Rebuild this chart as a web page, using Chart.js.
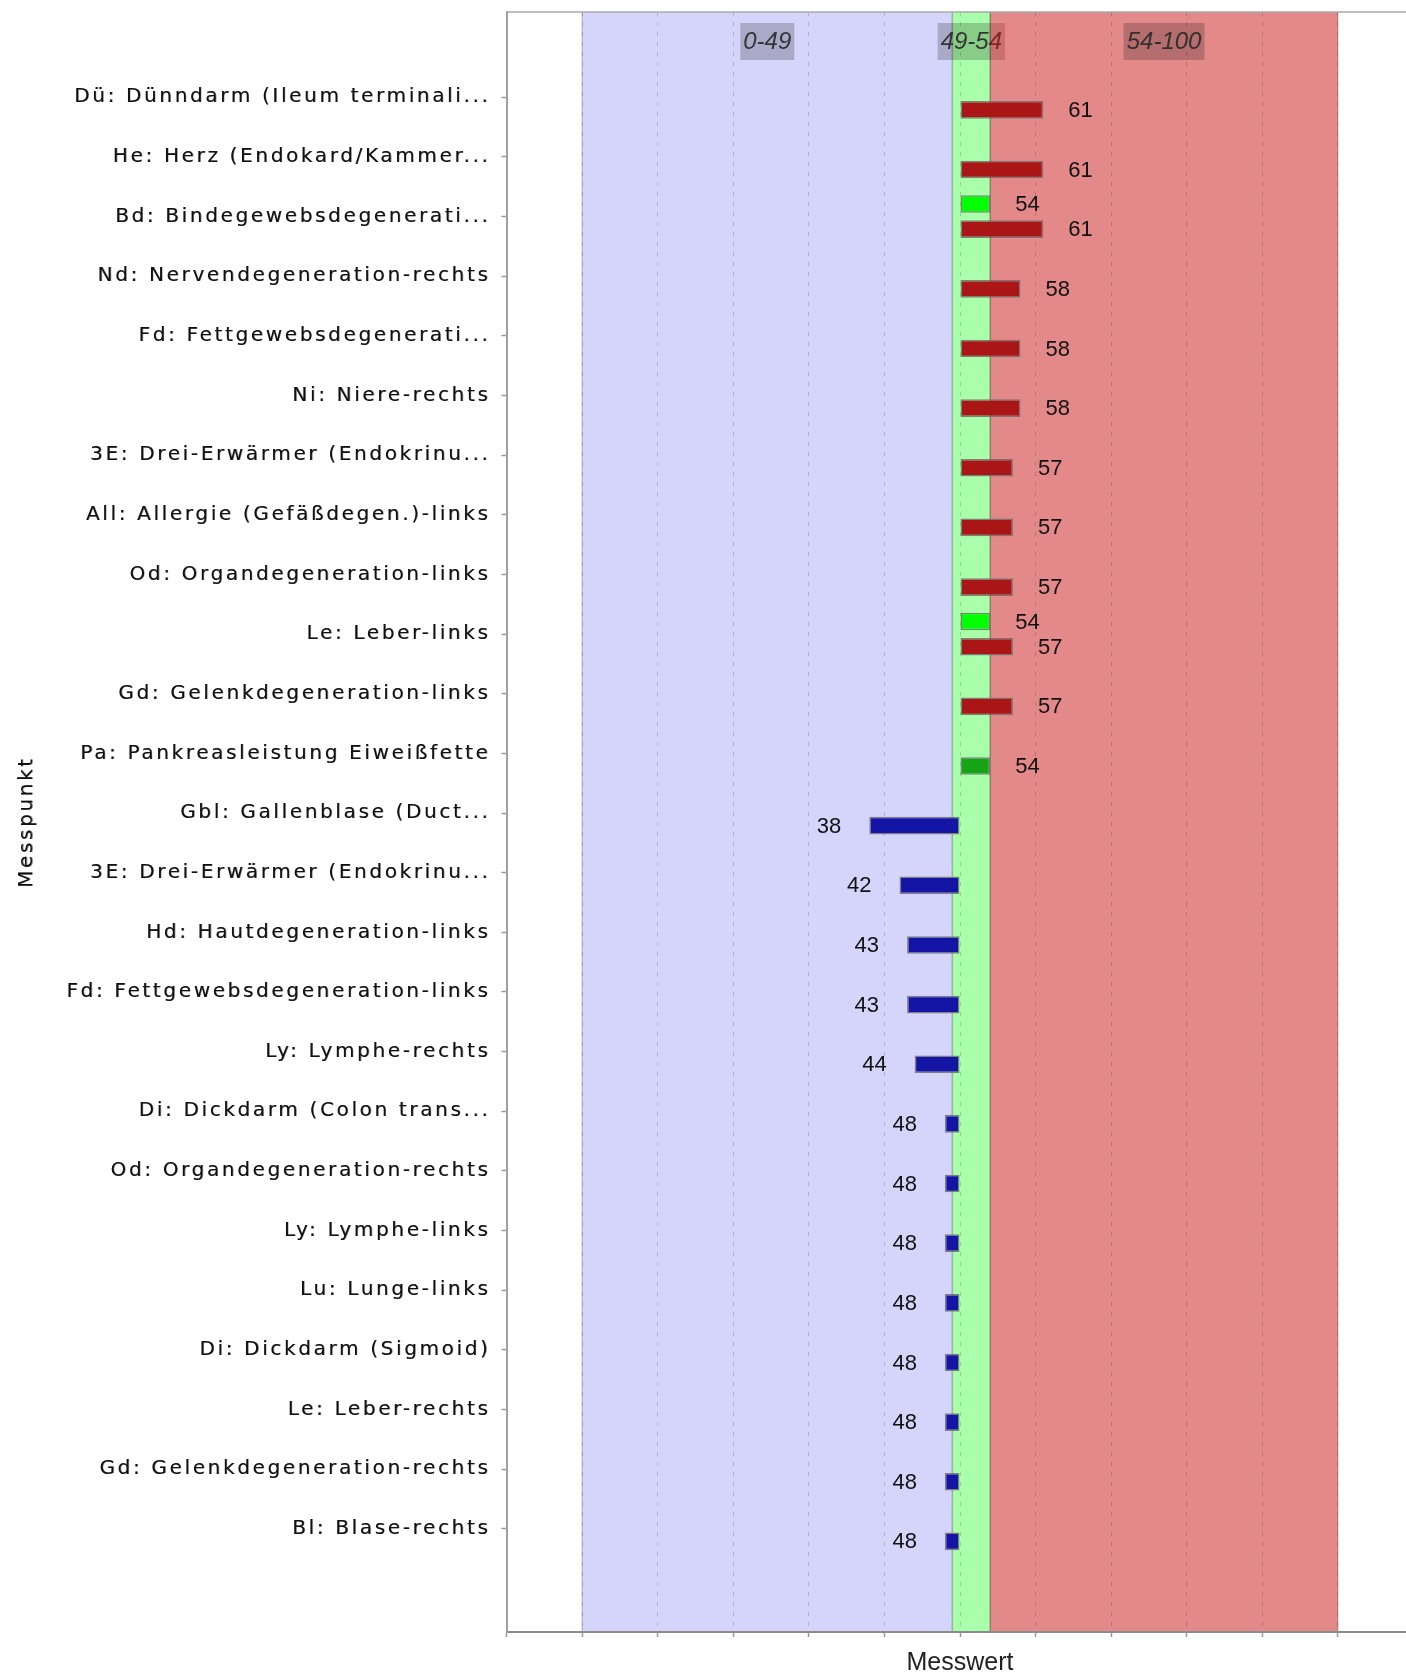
<!DOCTYPE html>
<html>
<head>
<meta charset="utf-8">
<script src="https://cdn.jsdelivr.net/npm/chart.js@4.4.1/dist/chart.umd.min.js"></script>
<style>
  html, body { margin: 0; padding: 0; overflow: hidden; background: #ffffff; }
  canvas { display: block; }
</style>
</head>
<body>
<canvas id="chart" width="1416" height="1672"></canvas>
<script>
// ---------------- data ----------------
const categories = [
  "Dü: Dünndarm (Ileum terminali...",
  "He: Herz (Endokard/Kammer...",
  "Bd: Bindegewebsdegenerati...",
  "Nd: Nervendegeneration-rechts",
  "Fd: Fettgewebsdegenerati...",
  "Ni: Niere-rechts",
  "3E: Drei-Erwärmer (Endokrinu...",
  "All: Allergie (Gefäßdegen.)-links",
  "Od: Organdegeneration-links",
  "Le: Leber-links",
  "Gd: Gelenkdegeneration-links",
  "Pa: Pankreasleistung Eiweißfette",
  "Gbl: Gallenblase (Duct...",
  "3E: Drei-Erwärmer (Endokrinu...",
  "Hd: Hautdegeneration-links",
  "Fd: Fettgewebsdegeneration-links",
  "Ly: Lymphe-rechts",
  "Di: Dickdarm (Colon trans...",
  "Od: Organdegeneration-rechts",
  "Ly: Lymphe-links",
  "Lu: Lunge-links",
  "Di: Dickdarm (Sigmoid)",
  "Le: Leber-rechts",
  "Gd: Gelenkdegeneration-rechts",
  "Bl: Blase-rechts"
];
const measuredValues = [61, 61, 61, 58, 58, 58, 57, 57, 57, 57, 57, 54, 38, 42, 43, 43, 44, 48, 48, 48, 48, 48, 48, 48, 48];
const referenceValues = [null, null, 54, null, null, null, null, null, null, 54, null, null, null, null, null, null, null, null, null, null, null, null, null, null, null];
const barBase = 50;
const bandStarts = [0, 49, 54];
const bandEnds = [49, 54, 100];
const bandLabels = ["0-49", "49-54", "54-100"];
const xMin = -10, xMax = 110, xStep = 10;
const xTitle = "Messwert";
const yTitle = "Messpunkt";

// ---------------- styles ----------------
const bandColors = ["#d5d5fb", "#aaffaa", "rgba(200,20,20,0.5)"];
const colHigh = "#aa1515", colMid = "#15a515", colLow = "#1515a5", colRef = "#00ff00";
const catFont = '"DejaVu Sans", sans-serif';
const numFont = '"Liberation Sans", Arial, sans-serif';

function toPoints(arr) {
  const out = [];
  arr.forEach((v, i) => { if (v !== null) out.push({ x: v, y: i }); });
  return out;
}

const bandPlugin = {
  id: 'bands',
  beforeDraw(chart) {
    const { ctx, chartArea: a, scales: { x } } = chart;
    ctx.save();
    ctx.fillStyle = '#ffffff';
    ctx.fillRect(0, 0, chart.width, chart.height);
    bandStarts.forEach((s, i) => {
      const x0 = x.getPixelForValue(s), x1 = x.getPixelForValue(bandEnds[i]);
      ctx.fillStyle = bandColors[i];
      ctx.fillRect(x0, a.top, x1 - x0, a.bottom - a.top);
      ctx.strokeStyle = 'rgba(0,0,0,0.18)';
      ctx.lineWidth = 1.5;
      ctx.beginPath();
      ctx.moveTo(x0, a.top); ctx.lineTo(x0, a.bottom);
      ctx.moveTo(x1, a.top); ctx.lineTo(x1, a.bottom);
      ctx.stroke();
      ctx.font = 'italic 24px ' + numFont;
      const cx = x.getPixelForValue((s + bandEnds[i]) / 2);
      const w = ctx.measureText(bandLabels[i]).width;
      ctx.fillStyle = 'rgba(0,0,0,0.2)';
      ctx.fillRect(cx - w / 2 - 3, a.top + 11, w + 6, 37);
      ctx.fillStyle = 'rgba(40,40,40,0.9)';
      ctx.textAlign = 'center';
      ctx.textBaseline = 'middle';
      ctx.fillText(bandLabels[i], cx, a.top + 30);
    });
    ctx.restore();
  },
  afterDraw(chart) {
    const { ctx, chartArea: a } = chart;
    ctx.save();
    ctx.strokeStyle = '#aaaaaa';
    ctx.lineWidth = 1.5;
    ctx.beginPath();
    ctx.moveTo(a.left, a.top); ctx.lineTo(a.right, a.top);
    ctx.stroke();
    ctx.restore();
  }
};

const valueLabelPlugin = {
  id: 'valueLabels',
  afterDatasetsDraw(chart) {
    const ctx = chart.ctx;
    ctx.save();
    ctx.font = '22px ' + numFont;
    ctx.fillStyle = '#111111';
    ctx.textBaseline = 'middle';
    chart.data.datasets.forEach((ds, di) => {
      const meta = chart.getDatasetMeta(di);
      meta.data.forEach((el, j) => {
        const v = ds.data[j].x;
        const p = el.getProps(['x', 'y'], true);
        if (v >= barBase) {
          ctx.textAlign = 'left';
          ctx.fillText(String(v), p.x + 25, p.y + 1);
        } else {
          ctx.textAlign = 'right';
          ctx.fillText(String(v), p.x - 28, p.y + 1);
        }
      });
    });
    ctx.restore();
  }
};

const spacedAxisPlugin = {
  id: 'spacedAxis',
  afterLayout(chart) {
    const s = chart.scales.y;
    if (!s || s.__spaced) return;
    s.__spaced = true;
    const wrap = (fn) => function (...args) {
      const c = this.ctx;
      c.save();
      c.letterSpacing = '2.65px';
      c.shadowColor = 'rgba(0,0,0,0.45)';
      c.shadowBlur = 0;
      c.shadowOffsetX = 0.6;
      c.shadowOffsetY = 0;
      fn.apply(this, args);
      c.restore();
    };
    s.drawLabels = wrap(s.drawLabels);
    s.drawTitle = wrap(s.drawTitle);
  }
};

new Chart(document.getElementById('chart'), {
  type: 'bar',
  data: {
    datasets: [
      {
        label: 'Referenz',
        data: toPoints(referenceValues),
        base: barBase,
        backgroundColor: colRef,
        borderColor: 'rgba(110,110,110,0.85)',
        borderWidth: 1.5,
        borderSkipped: false,
        categoryPercentage: 0.845,
        barPercentage: 0.7
      },
      {
        label: 'Messwert',
        data: toPoints(measuredValues),
        base: barBase,
        backgroundColor: (c) => {
          const v = c.raw ? c.raw.x : 0;
          return v > bandEnds[1] ? colHigh : (v >= bandStarts[1] ? colMid : colLow);
        },
        borderColor: 'rgba(110,110,110,0.85)',
        borderWidth: 1.5,
        borderSkipped: false,
        categoryPercentage: 0.845,
        barPercentage: 0.7
      }
    ]
  },
  options: {
    indexAxis: 'y',
    responsive: false,
    animation: false,
    devicePixelRatio: 1,
    events: [],
    layout: { padding: { left: 0, top: 12, right: 2.5, bottom: 0 } },
    plugins: { legend: { display: false }, tooltip: { enabled: false } },
    scales: {
      x: {
        type: 'linear',
        min: xMin, max: xMax,
        ticks: { display: false, stepSize: xStep },
        grid: {
          color: (c) => (c.tick && (c.tick.value === xMin || c.tick.value === xMax)) ? 'rgba(0,0,0,0)' : 'rgba(0,0,0,0.16)',
          lineWidth: 1,
          drawTicks: true,
          tickLength: 5,
          tickColor: '#999999',
          tickWidth: 1.5
        },
        border: { display: true, color: '#8c8c8c', width: 2, dash: [4, 6] },
        title: {
          display: true, text: xTitle, color: '#222222',
          font: { family: numFont, size: 25, lineHeight: 0.66 },
          padding: { top: 0, bottom: 0.35 }
        },
        afterFit: (s) => { s.height = 40; s.paddingLeft = 0; s.paddingRight = 0; }
      },
      y: {
        type: 'linear',
        reverse: true,
        offset: false,
        min: -1.43, max: 25.73,
        afterBuildTicks: (s) => { s.ticks = categories.map((_, i) => ({ value: i })); },
        ticks: {
          autoSkip: false,
          callback: (v) => categories[v],
          font: { family: catFont, size: 20 },
          color: '#111111',
          padding: 11
        },
        grid: { offset: false, drawOnChartArea: false, drawTicks: true, tickLength: 5, tickColor: '#999999', tickWidth: 1.5 },
        border: { display: true, color: '#a0a0a0', width: 2 },
        title: {
          display: true, text: yTitle, color: '#111111',
          font: { family: catFont, size: 20 },
          padding: { top: 15, bottom: 0 }
        },
        afterFit: (s) => { s.width = 506.5; s.paddingTop = 0; s.paddingBottom = 0; }
      }
    }
  },
  plugins: [bandPlugin, valueLabelPlugin, spacedAxisPlugin]
});
</script>
</body>
</html>
